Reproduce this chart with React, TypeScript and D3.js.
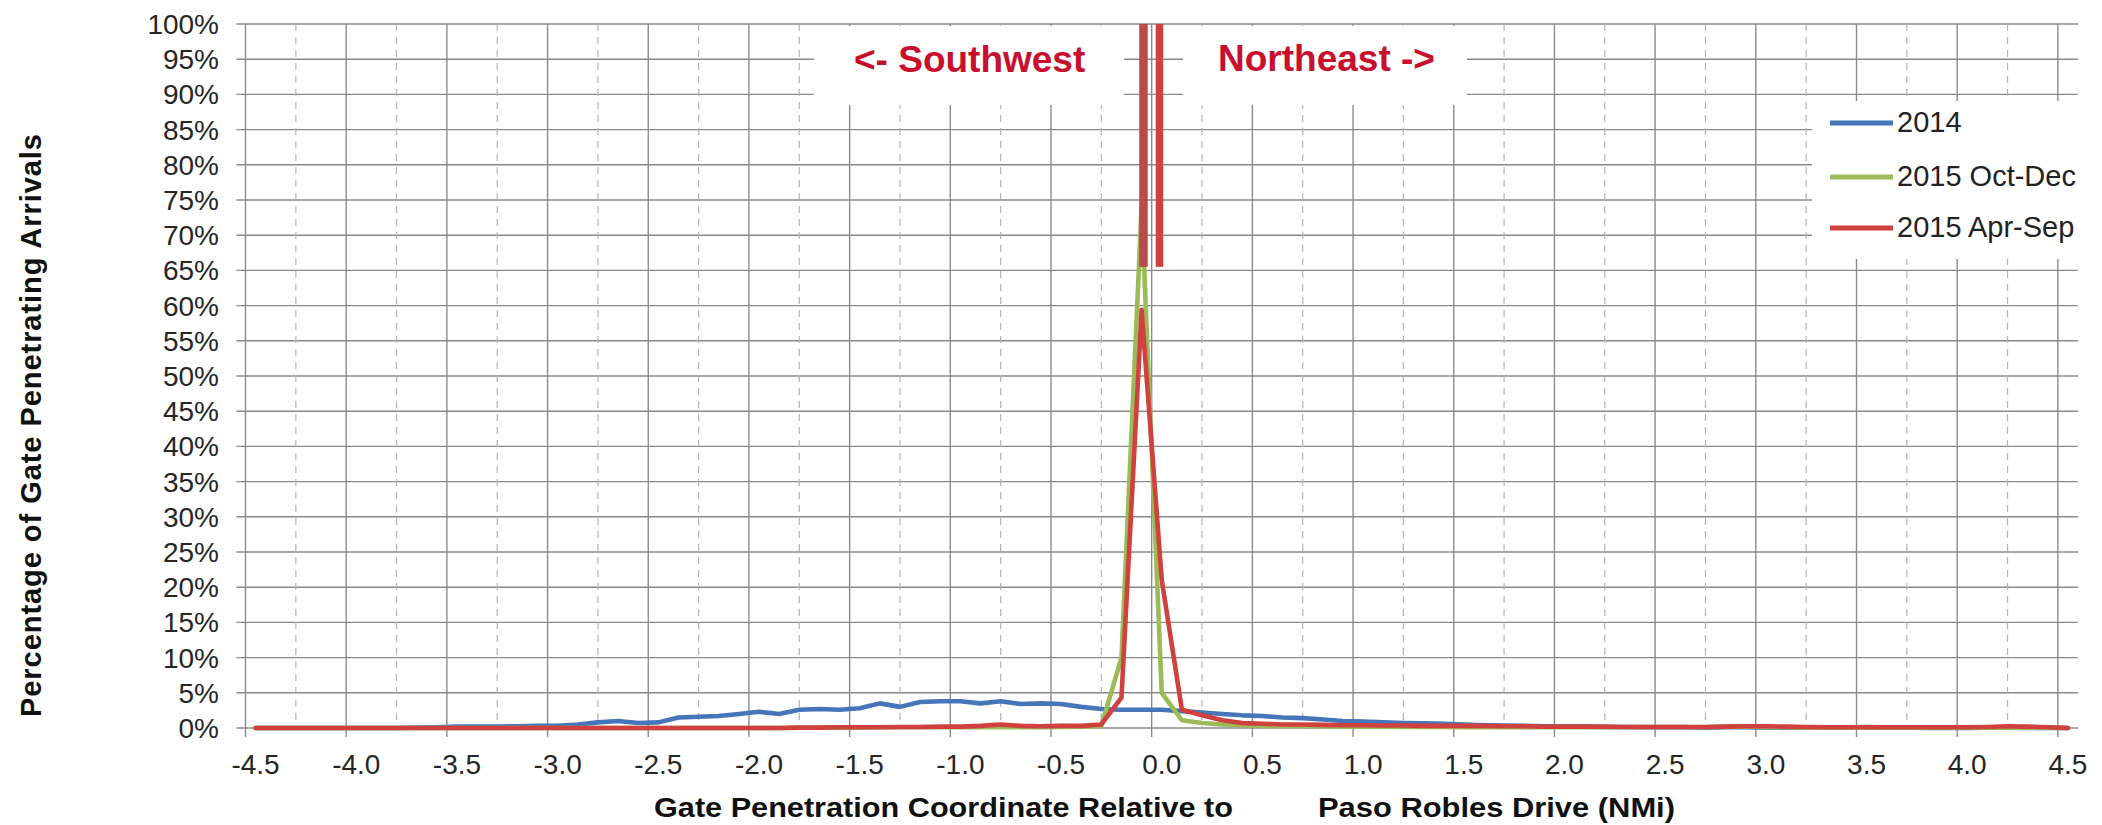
import React from "react";
import * as d3 from "d3";

// ---- data ----
const CATEGORIES: number[] = [
  -4.45, -4.35, -4.25, -4.15, -4.05, -3.95, -3.85, -3.75, -3.65, -3.55,
  -3.45, -3.35, -3.25, -3.15, -3.05, -2.95, -2.85, -2.75, -2.65, -2.55,
  -2.45, -2.35, -2.25, -2.15, -2.05, -1.95, -1.85, -1.75, -1.65, -1.55,
  -1.45, -1.35, -1.25, -1.15, -1.05, -0.95, -0.85, -0.75, -0.65, -0.55,
  -0.45, -0.35, -0.25, -0.15, -0.05, 0.05, 0.15, 0.25, 0.35, 0.45,
  0.55, 0.65, 0.75, 0.85, 0.95, 1.05, 1.15, 1.25, 1.35, 1.45,
  1.55, 1.65, 1.75, 1.85, 1.95, 2.05, 2.15, 2.25, 2.35, 2.45,
  2.55, 2.65, 2.75, 2.85, 2.95, 3.05, 3.15, 3.25, 3.35, 3.45,
  3.55, 3.65, 3.75, 3.85, 3.95, 4.05, 4.15, 4.25, 4.35, 4.45,
  4.55,
];

const SERIES_2014: number[] = [
  0, 0, 0, 0, 0, 0, 0, 0, 0.05, 0.1,
  0.2, 0.2, 0.2, 0.25, 0.3, 0.3, 0.5, 0.8, 1.0, 0.7,
  0.8, 1.5, 1.6, 1.7, 2.0, 2.3, 2.0, 2.6, 2.7, 2.6,
  2.8, 3.5, 3.0, 3.7, 3.8, 3.8, 3.5, 3.8, 3.4, 3.5,
  3.4, 3.0, 2.7, 2.6, 2.6, 2.6, 2.4, 2.2, 2.0, 1.8,
  1.7, 1.5, 1.4, 1.2, 1.0, 0.9, 0.8, 0.7, 0.65, 0.6,
  0.5, 0.4, 0.35, 0.3, 0.25, 0.2, 0.2, 0.15, 0.15, 0.1,
  0.1, 0.1, 0.05, 0.1, 0.1, 0.05, 0.05, 0.05, 0.05, 0.1,
  0.15, 0.05, 0.05, 0, 0, 0, 0.05, 0.05, 0, 0,
  0,
];

const SERIES_OCT_DEC: number[] = [
  0, 0, 0, 0, 0, 0, 0, 0, 0, 0,
  0, 0, 0, 0, 0, 0, 0, 0, 0, 0,
  0, 0, 0, 0, 0, 0, 0, 0.05, 0.05, 0.05,
  0.05, 0.1, 0.1, 0.1, 0.1, 0.1, 0.1, 0.15, 0.1, 0.1,
  0.15, 0.2, 0.3, 10, 74, 5, 1.1, 0.7, 0.5, 0.4,
  0.3, 0.3, 0.3, 0.25, 0.2, 0.2, 0.2, 0.15, 0.15, 0.15,
  0.1, 0.1, 0.1, 0.1, 0.1, 0.1, 0.1, 0.1, 0.1, 0.15,
  0.15, 0.15, 0.1, 0.2, 0.2, 0.1, 0.1, 0.05, 0.05, 0.05,
  0.05, 0.05, 0.05, 0.05, 0.05, 0.05, 0.05, 0.05, 0.05, 0.05,
  0,
];

const SERIES_APR_SEP: number[] = [
  0, 0, 0, 0, 0, 0, 0, 0, 0, 0,
  0, 0, 0, 0, 0, 0, 0, 0, 0, 0,
  0, 0, 0, 0, 0, 0, 0, 0.05, 0.05, 0.1,
  0.1, 0.1, 0.15, 0.15, 0.2, 0.2, 0.3, 0.5, 0.3, 0.25,
  0.3, 0.3, 0.5, 4.3, 59.4, 21, 2.6, 1.8, 1.1, 0.7,
  0.6, 0.5, 0.5, 0.45, 0.4, 0.4, 0.35, 0.35, 0.3, 0.3,
  0.3, 0.3, 0.25, 0.25, 0.2, 0.2, 0.2, 0.2, 0.15, 0.15,
  0.15, 0.15, 0.15, 0.2, 0.25, 0.25, 0.2, 0.15, 0.1, 0.1,
  0.1, 0.1, 0.1, 0.1, 0.1, 0.1, 0.15, 0.25, 0.2, 0.1,
  0,
];

const SERIES_NAMES: string[] = ["2014", "2015 Oct-Dec", "2015 Apr-Sep"];

const Y_TICKS: number[] = [0, 5, 10, 15, 20, 25, 30, 35, 40, 45, 50, 55, 60, 65, 70, 75, 80, 85, 90, 95, 100];
const X_MAJOR_GRID: number[] = [-4.5, -4.0, -3.5, -3.0, -2.5, -2.0, -1.5, -1.0, -0.5, 0.0, 0.5, 1.0, 1.5, 2.0, 2.5, 3.0, 3.5, 4.0, 4.5];
const X_MINOR_GRID: number[] = [-4.25, -3.75, -3.25, -2.75, -2.25, -1.75, -1.25, -0.75, -0.25, 0.25, 0.75, 1.25, 1.75, 2.25, 2.75, 3.25, 3.75, 4.25];
const X_TICK_LABELS: string[] = ["-4.5", "-4.0", "-3.5", "-3.0", "-2.5", "-2.0", "-1.5", "-1.0", "-0.5", "0.0", "0.5", "1.0", "1.5", "2.0", "2.5", "3.0", "3.5", "4.0", "4.5"];
const X_LABEL_EVERY = 5;

const DIVIDER_TOP = 100;
const DIVIDER_BOTTOM = 65.5;

// ---- layout / style ----
const W = 2102;
const H = 825;
const PLOT_L = 245.5;
const PLOT_R = 2078;
const PLOT_T = 24;
const PLOT_B = 728;
const FONT = "'Liberation Sans', Arial, Helvetica, sans-serif";
const COLORS = ["#4676b9", "#9bbb59", "#d0403e"];
const GRID = "#8a8a8a";
const MINOR = "#b4b4b4";
const ANNOT = "#c8102e";

export default function App() {
  const x = d3.scaleLinear().domain([-4.5, 4.6]).range([PLOT_L, PLOT_R]);
  const y = d3.scaleLinear().domain([0, 100]).range([PLOT_B, PLOT_T]);
  const line = d3
    .line<number>()
    .x((_, i) => x(CATEGORIES[i]))
    .y((d) => y(d));
  const series = [SERIES_2014, SERIES_OCT_DEC, SERIES_APR_SEP];
  const step = CATEGORIES[1] - CATEGORIES[0];

  return (
    <svg
      width={W}
      height={H}
      style={{ position: "absolute", left: 0, top: 0, background: "#fff" }}
      fontFamily={FONT}
    >
      <rect x={0} y={0} width={W} height={H} fill="#fff" />
      {/* horizontal gridlines */}
      {Y_TICKS.map((t) => (
        <line key={"h" + t} x1={PLOT_L - 9} x2={PLOT_R} y1={y(t)} y2={y(t)} stroke={GRID} strokeWidth={1.4} />
      ))}
      {/* minor dashed vertical gridlines */}
      {X_MINOR_GRID.map((v) => (
        <line key={"m" + v} x1={x(v)} x2={x(v)} y1={PLOT_T} y2={PLOT_B} stroke={MINOR} strokeWidth={1.2} strokeDasharray="7,6" />
      ))}
      {/* major vertical gridlines */}
      {X_MAJOR_GRID.map((v) => (
        <line key={"M" + v} x1={x(v)} x2={x(v)} y1={PLOT_T} y2={PLOT_B + 9} stroke={GRID} strokeWidth={1.4} />
      ))}

      {/* annotation backgrounds */}
      <rect x={814} y={26} width={310} height={79} fill="#fff" />
      <rect x={1183} y={26} width={284} height={79} fill="#fff" />
      {/* legend background */}
      <rect x={1812} y={101} width={276} height={158} fill="#fff" />

      {/* series */}
      {series.map((s, k) => (
        <path
          key={"s" + k}
          d={line(s) || ""}
          fill="none"
          stroke={COLORS[k]}
          strokeWidth={4.6}
          strokeLinejoin="round"
          strokeLinecap="round"
        />
      ))}

      {/* divider bars */}
      <rect
        x={x(-0.05 - step * 0.12)}
        y={y(DIVIDER_TOP)}
        width={8.5}
        height={y(DIVIDER_BOTTOM) - y(DIVIDER_TOP)}
        fill="#b84c4a"
      />
      <rect
        x={x(0.02)}
        y={y(DIVIDER_TOP)}
        width={7.5}
        height={y(DIVIDER_BOTTOM) - y(DIVIDER_TOP)}
        fill="#d2413f"
      />

      {/* annotations */}
      <text x={854} y={72} fontSize={37} fontWeight="bold" fill={ANNOT}>
        {"<- Southwest"}
      </text>
      <text x={1218} y={71} fontSize={37} fontWeight="bold" fill={ANNOT}>
        {"Northeast ->"}
      </text>

      {/* y tick labels */}
      {Y_TICKS.map((t) => (
        <text key={"yl" + t} x={219} y={y(t) + 10} fontSize={28} textAnchor="end" fill="#262626">
          {t + "%"}
        </text>
      ))}
      {/* x tick labels */}
      {X_TICK_LABELS.map((lab, i) => (
        <text
          key={"xl" + i}
          x={x(CATEGORIES[i * X_LABEL_EVERY])}
          y={774}
          fontSize={28}
          textAnchor="middle"
          fill="#262626"
        >
          {lab}
        </text>
      ))}

      {/* axis titles */}
      <text
        transform="translate(41,425.5) rotate(-90)"
        fontSize={29}
        fontWeight="bold"
        textAnchor="middle"
        fill="#111"
        textLength={583}
        lengthAdjust="spacing"
      >
        Percentage of Gate Penetrating Arrivals
      </text>
      <text x={654} y={817} fontSize={27} fontWeight="bold" fill="#111" textLength={579} lengthAdjust="spacingAndGlyphs">
        Gate Penetration Coordinate Relative to
      </text>
      <text x={1318} y={817} fontSize={27} fontWeight="bold" fill="#111" textLength={357} lengthAdjust="spacingAndGlyphs">
        Paso Robles Drive (NMi)
      </text>

      {/* legend */}
      {SERIES_NAMES.map((name, k) => {
        const cy = [123, 177, 228][k];
        return (
          <g key={"lg" + k}>
            <line x1={1830} x2={1893} y1={cy} y2={cy} stroke={COLORS[k]} strokeWidth={5} />
            <text x={1897} y={cy + 9} fontSize={29} fill="#222">
              {name}
            </text>
          </g>
        );
      })}
    </svg>
  );
}
